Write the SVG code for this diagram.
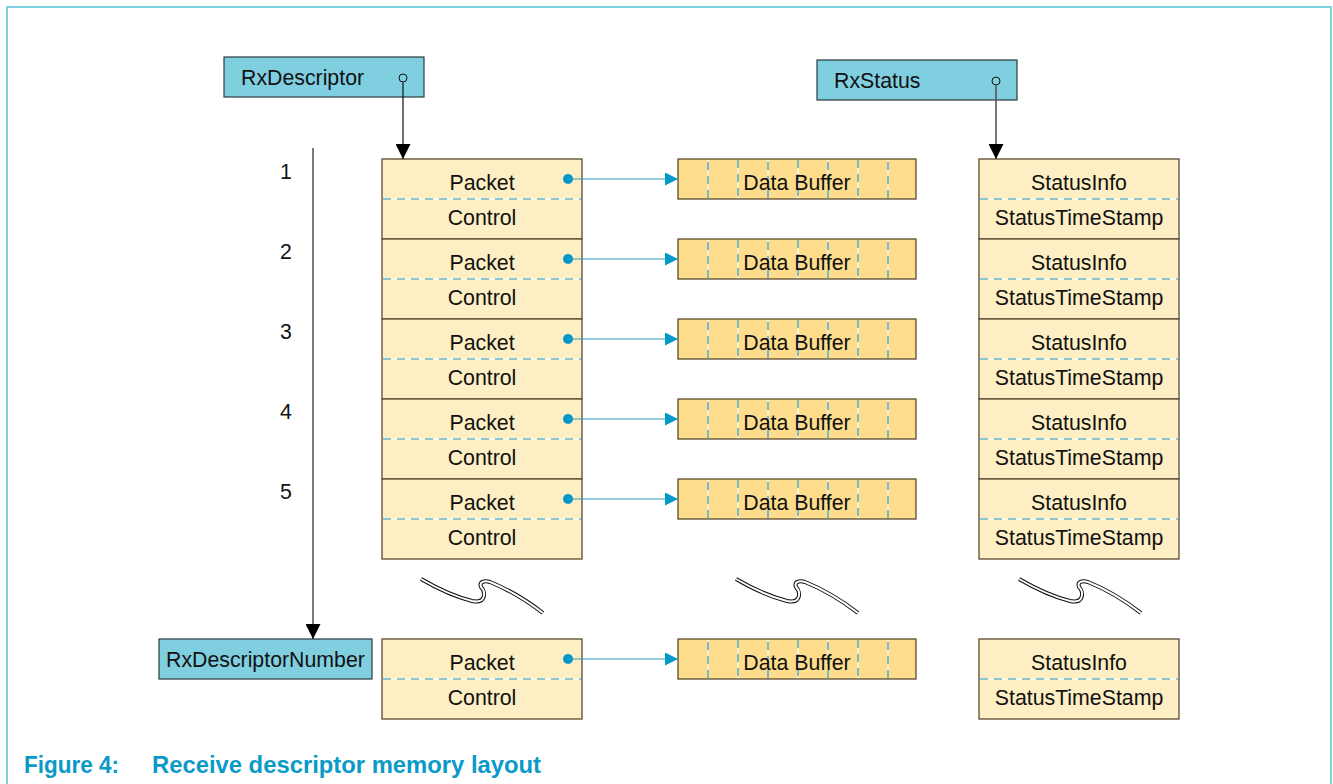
<svg xmlns="http://www.w3.org/2000/svg" width="1333" height="784" viewBox="0 0 1333 784">
<defs>
<style>
text{font-family:"Liberation Sans",Arial,sans-serif;font-size:21.3px;fill:#111}
.c{text-anchor:middle}
.hdr{fill:#7fcfe1;stroke:#2a3a3a;stroke-width:1.2}
.desc{fill:#fdeec3;stroke:#5a4a30;stroke-width:1.3}
.buf{fill:#fddc8c;stroke:#5a4a30;stroke-width:1.3}
.dw{stroke:#fff;stroke-width:1.2;fill:none}
.db{stroke:#2596be;stroke-width:1.2;stroke-dasharray:8 6;fill:none}
.dot{fill:#0099c8}
.lnk{stroke:#2a9bc3;stroke-width:1.1;fill:none}
.sq1{stroke:#111;stroke-width:4;fill:none;stroke-linecap:butt}
.sq2{stroke:#fff;stroke-width:2;fill:none}
.cap{font-weight:bold;font-size:23px;fill:#0a9ac8}
</style>
<marker id="blk" viewBox="0 0 10 10" refX="10" refY="5" markerWidth="15" markerHeight="15" markerUnits="userSpaceOnUse" orient="auto"><path d="M0,0L10,5L0,10z" fill="#000"/></marker>
<marker id="blu" viewBox="0 0 10 10" refX="10" refY="5" markerWidth="13" markerHeight="13" markerUnits="userSpaceOnUse" orient="auto"><path d="M0,0L10,5L0,10z" fill="#0099c8"/></marker>
<g id="bufcells">
<rect class="buf" x="0" y="0" width="238" height="40"/>
<path class="dw" d="M30,1V39M60,1V39M90,1V39M120,1V39M150,1V39M180,1V39M210,1V39"/>
<path class="db" d="M30,3V39M60,1V39M90,3V39M120,1V39M150,3V39M180,1V39M210,3V39"/>
</g>
</defs>
<rect width="1333" height="784" fill="#fff"/>
<g id="frame" stroke="#80cfe0" stroke-width="2" fill="none">
<path d="M7,784V7H1331V784"/>
</g>

<g id="rxdescriptor">
<rect class="hdr" x="224" y="57" width="200" height="40"/>
<text x="241" y="85">RxDescriptor</text>
<circle cx="403" cy="78" r="4" fill="none" stroke="#111" stroke-width="1"/>
</g>
<g id="rxstatus">
<rect class="hdr" x="817" y="60" width="200" height="40"/>
<text x="834" y="88">RxStatus</text>
<circle cx="996" cy="81" r="4" fill="none" stroke="#111" stroke-width="1"/>
</g>
<g id="rxdescriptornumber">
<rect class="hdr" x="159" y="639" width="213" height="40"/>
<text x="166" y="667">RxDescriptorNumber</text>
</g>

<g id="indices">
<text x="286" y="179" class="c">1</text>
<text x="286" y="259" class="c">2</text>
<text x="286" y="339" class="c">3</text>
<text x="286" y="419" class="c">4</text>
<text x="286" y="499" class="c">5</text>
</g>

<g id="descriptors">
<g id="desc1"><rect class="desc" x="382" y="159" width="200" height="80"/><path class="dw" d="M383,199H581"/><path class="db" d="M383,199H581"/><text class="c" x="482" y="189.5">Packet</text><text class="c" x="482" y="224.5">Control</text></g>
<g id="desc2"><rect class="desc" x="382" y="239" width="200" height="80"/><path class="dw" d="M383,279H581"/><path class="db" d="M383,279H581"/><text class="c" x="482" y="269.5">Packet</text><text class="c" x="482" y="304.5">Control</text></g>
<g id="desc3"><rect class="desc" x="382" y="319" width="200" height="80"/><path class="dw" d="M383,359H581"/><path class="db" d="M383,359H581"/><text class="c" x="482" y="349.5">Packet</text><text class="c" x="482" y="384.5">Control</text></g>
<g id="desc4"><rect class="desc" x="382" y="399" width="200" height="80"/><path class="dw" d="M383,439H581"/><path class="db" d="M383,439H581"/><text class="c" x="482" y="429.5">Packet</text><text class="c" x="482" y="464.5">Control</text></g>
<g id="desc5"><rect class="desc" x="382" y="479" width="200" height="80"/><path class="dw" d="M383,519H581"/><path class="db" d="M383,519H581"/><text class="c" x="482" y="509.5">Packet</text><text class="c" x="482" y="544.5">Control</text></g>
<g id="descN"><rect class="desc" x="382" y="639" width="200" height="80"/><path class="dw" d="M383,679H581"/><path class="db" d="M383,679H581"/><text class="c" x="482" y="669.5">Packet</text><text class="c" x="482" y="704.5">Control</text></g>
</g>

<g id="buffers">
<g id="buf1"><use href="#bufcells" x="678" y="159"/><text class="c" x="797" y="189.5">Data Buffer</text></g>
<g id="buf2"><use href="#bufcells" x="678" y="239"/><text class="c" x="797" y="269.5">Data Buffer</text></g>
<g id="buf3"><use href="#bufcells" x="678" y="319"/><text class="c" x="797" y="349.5">Data Buffer</text></g>
<g id="buf4"><use href="#bufcells" x="678" y="399"/><text class="c" x="797" y="429.5">Data Buffer</text></g>
<g id="buf5"><use href="#bufcells" x="678" y="479"/><text class="c" x="797" y="509.5">Data Buffer</text></g>
<g id="bufN"><use href="#bufcells" x="678" y="639"/><text class="c" x="797" y="669.5">Data Buffer</text></g>
</g>

<g id="statuses">
<g id="st1"><rect class="desc" x="979" y="159" width="200" height="80"/><path class="dw" d="M980,199H1178"/><path class="db" d="M980,199H1178"/><text class="c" x="1079" y="189.5">StatusInfo</text><text class="c" x="1079" y="224.5">StatusTimeStamp</text></g>
<g id="st2"><rect class="desc" x="979" y="239" width="200" height="80"/><path class="dw" d="M980,279H1178"/><path class="db" d="M980,279H1178"/><text class="c" x="1079" y="269.5">StatusInfo</text><text class="c" x="1079" y="304.5">StatusTimeStamp</text></g>
<g id="st3"><rect class="desc" x="979" y="319" width="200" height="80"/><path class="dw" d="M980,359H1178"/><path class="db" d="M980,359H1178"/><text class="c" x="1079" y="349.5">StatusInfo</text><text class="c" x="1079" y="384.5">StatusTimeStamp</text></g>
<g id="st4"><rect class="desc" x="979" y="399" width="200" height="80"/><path class="dw" d="M980,439H1178"/><path class="db" d="M980,439H1178"/><text class="c" x="1079" y="429.5">StatusInfo</text><text class="c" x="1079" y="464.5">StatusTimeStamp</text></g>
<g id="st5"><rect class="desc" x="979" y="479" width="200" height="80"/><path class="dw" d="M980,519H1178"/><path class="db" d="M980,519H1178"/><text class="c" x="1079" y="509.5">StatusInfo</text><text class="c" x="1079" y="544.5">StatusTimeStamp</text></g>
<g id="stN"><rect class="desc" x="979" y="639" width="200" height="80"/><path class="dw" d="M980,679H1178"/><path class="db" d="M980,679H1178"/><text class="c" x="1079" y="669.5">StatusInfo</text><text class="c" x="1079" y="704.5">StatusTimeStamp</text></g>
</g>

<g id="breaks">
<g id="brk1"><path class="sq1" d="M421,579C440,590 460,598 472,601C486,604 486,592 481,587C479,582 484,580 490,582C510,590 530,603 543,613"/><path class="sq2" d="M421,579C440,590 460,598 472,601C486,604 486,592 481,587C479,582 484,580 490,582C510,590 530,603 543,613"/></g>
<g id="brk2"><path class="sq1" d="M736,579C755,590 775,598 787,601C801,604 801,592 796,587C794,582 799,580 805,582C825,590 845,603 858,613"/><path class="sq2" d="M736,579C755,590 775,598 787,601C801,604 801,592 796,587C794,582 799,580 805,582C825,590 845,603 858,613"/></g>
<g id="brk3"><path class="sq1" d="M1019,579C1038,590 1058,598 1070,601C1084,604 1084,592 1079,587C1077,582 1082,580 1088,582C1108,590 1128,603 1141,613"/><path class="sq2" d="M1019,579C1038,590 1058,598 1070,601C1084,604 1084,592 1079,587C1077,582 1082,580 1088,582C1108,590 1128,603 1141,613"/></g>
</g>

<g id="connectors">
<path d="M403,82V159" stroke="#111" stroke-width="1.2" fill="none" marker-end="url(#blk)"/>
<path d="M996,85V159" stroke="#555" stroke-width="1.6" fill="none" marker-end="url(#blk)"/>
<path d="M313,148V639" stroke="#222" stroke-width="1.2" fill="none" marker-end="url(#blk)"/>
<circle class="dot" cx="568" cy="179" r="5"/><path class="lnk" d="M568,179H678" marker-end="url(#blu)"/>
<circle class="dot" cx="568" cy="259" r="5"/><path class="lnk" d="M568,259H678" marker-end="url(#blu)"/>
<circle class="dot" cx="568" cy="339" r="5"/><path class="lnk" d="M568,339H678" marker-end="url(#blu)"/>
<circle class="dot" cx="568" cy="419" r="5"/><path class="lnk" d="M568,419H678" marker-end="url(#blu)"/>
<circle class="dot" cx="568" cy="499" r="5"/><path class="lnk" d="M568,499H678" marker-end="url(#blu)"/>
<circle class="dot" cx="568" cy="659" r="5"/><path class="lnk" d="M568,659H678" marker-end="url(#blu)"/>
</g>

<g id="caption">
<text class="cap" x="24" y="773" textLength="95" lengthAdjust="spacingAndGlyphs">Figure 4:</text>
<text class="cap" x="152" y="773" textLength="389" lengthAdjust="spacingAndGlyphs">Receive descriptor memory layout</text>
</g>
</svg>
